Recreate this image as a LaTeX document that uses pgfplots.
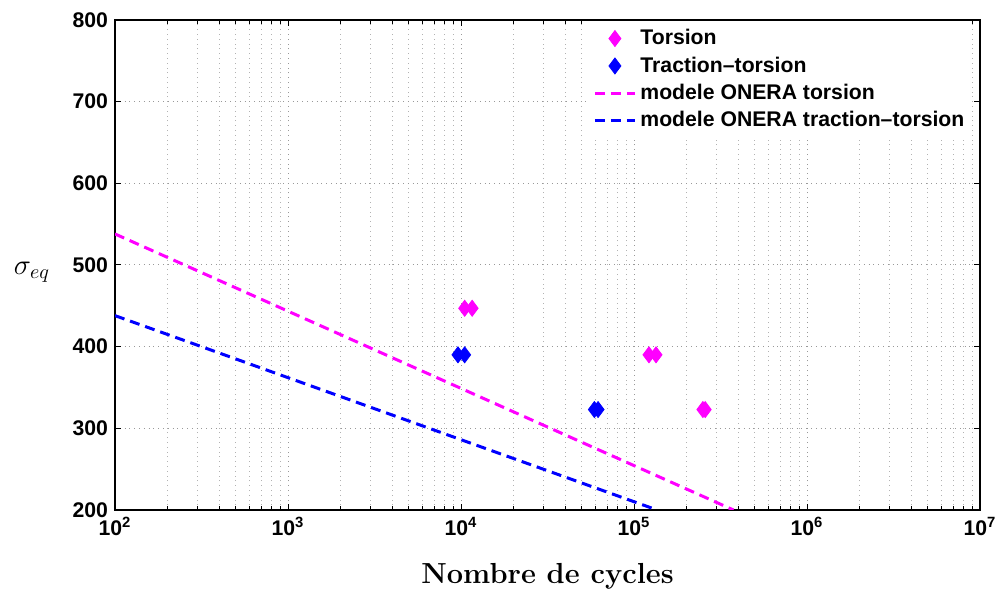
\documentclass[border=0pt]{standalone}
\usepackage{fontspec}
\setsansfont{Liberation Sans}
\usepackage{pgfplots}
\pgfplotsset{compat=1.18}
\definecolor{mag}{rgb}{1,0,1}
\definecolor{blu}{rgb}{0,0,1}
\pgfplotsset{
  linelegend/.style={legend image code/.code={\draw[##1] (0pt,0pt) -- (20pt,0pt);}},
  marklegend/.style={legend image code/.code={\draw[mark repeat=2,mark phase=2,##1] plot coordinates {(0pt,0pt)(10pt,0pt)(20pt,0pt)};}},
}
\begin{document}
\begin{tikzpicture}
\begin{axis}[
  at={(0,0)}, anchor=south west,
  scale only axis, width=432.5pt, height=245pt,
  xmode=log, xmin=1e2, xmax=1e7, ymin=200, ymax=800,
  ytick={200,300,400,500,600,700,800},
  xtick={1e2,1e3,1e4,1e5,1e6,1e7},
  xticklabels={10\textsuperscript{2},10\textsuperscript{3},10\textsuperscript{4},10\textsuperscript{5},10\textsuperscript{6},10\textsuperscript{7}},
  /pgf/number format/assume math mode=true,
  ticklabel style={font=\sffamily\bfseries\fontsize{10.6}{12}\selectfont},
  tick align=inside, major tick length=3pt, minor tick length=2pt,
  tick style={black, line width=0.5pt},
  axis line style={line width=1pt},
  xmajorgrids, xminorgrids, ymajorgrids,
  major grid style={dotted, gray!80, line width=0.5pt},
  minor grid style={dotted, gray!60, line width=0.5pt},
  xlabel={\textbf{Nombre de cycles}},
  xlabel style={font=\fontsize{14.5}{16}\selectfont, at={(axis description cs:0.5,-0.149)}, anchor=base},
  ylabel={$\sigma_{eq}$},
  ylabel style={font=\fontsize{14}{16}\selectfont, rotate=-90, at={(axis description cs:-0.096,0.485)}, anchor=center},
  legend style={draw=none, fill=white, at={(axis description cs:0.548,0.998)}, anchor=north west,
    font=\sffamily\bfseries\fontsize{10.6}{12.5}\selectfont, row sep=0.5pt, inner sep=2pt},
  legend cell align=left,
]
\addplot[only marks, mark=diamond*, mark size=4pt, color=mag, marklegend] coordinates {
 (1.05e4,447) (1.16e4,447) (1.22e5,390) (1.34e5,390) (2.50e5,323) (2.58e5,323)};
\addlegendentry{Torsion}
\addplot[only marks, mark=diamond*, mark size=4pt, color=blu, marklegend] coordinates {
 (9.6e3,390) (1.05e4,390) (5.9e4,323) (6.2e4,323)};
\addlegendentry{Traction--torsion}
\addplot[color=mag, line width=1.5pt, dash pattern=on 5pt off 3pt, linelegend] coordinates {(1e2,538) (3.76e5,200)};
\addlegendentry{modele ONERA torsion}
\addplot[color=blu, line width=1.5pt, dash pattern=on 5pt off 3pt, linelegend] coordinates {(1e2,438) (1.36e5,200)};
\addlegendentry{modele ONERA traction--torsion}
\end{axis}
\pgfresetboundingbox
\path (-57.5pt,-44pt) rectangle (442.5pt,255pt);
\end{tikzpicture}
\end{document}
